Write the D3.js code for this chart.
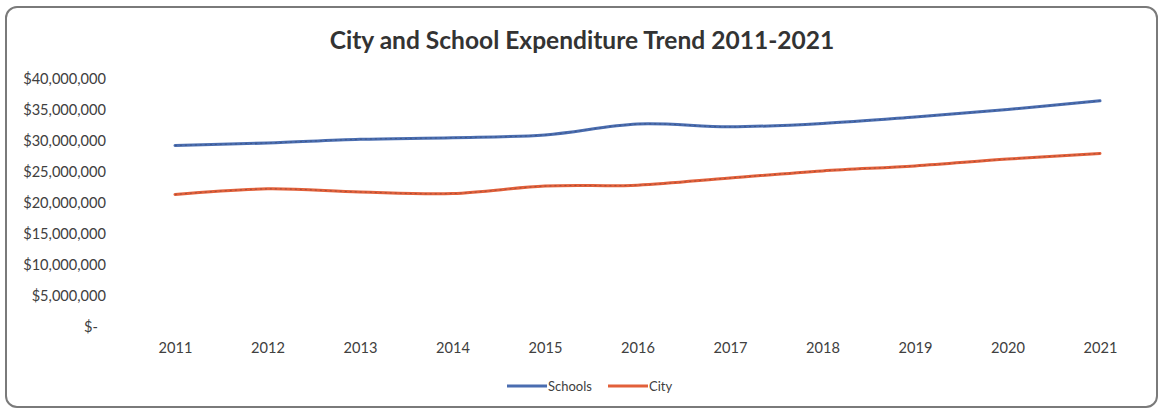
<!DOCTYPE html>
<html>
<head>
<meta charset="utf-8">
<script src="https://cdn.jsdelivr.net/npm/d3@7"></script>
<style>
  html, body { margin: 0; padding: 0; background: #ffffff; }
  svg { display: block; }
</style>
</head>
<body>
<svg id="chart" width="1161" height="412"></svg>
<script>
// Fiscal years shown on the category axis
const years = ["2011", "2012", "2013", "2014", "2015", "2016", "2017", "2018", "2019", "2020", "2021"];

// Annual expenditure, in dollars
const schools = [29200000, 29600000, 30200000, 30450000, 30900000, 32650000, 32200000, 32750000, 33800000, 35000000, 36400000];
const city    = [21300000, 22200000, 21700000, 21450000, 22650000, 22800000, 23950000, 25100000, 25900000, 27000000, 27900000];

// Value axis ticks
const yTicks = [0, 5000000, 10000000, 15000000, 20000000, 25000000, 30000000, 35000000, 40000000];

const seriesNames = ["Schools", "City"];
const seriesColors = ["#4a6db0", "#e2603a"];

const svg = d3.select("#chart");
const font = "Lato, 'Open Sans', sans-serif";

// Chart frame
svg.append("rect")
  .attr("x", 6).attr("y", 7)
  .attr("width", 1151).attr("height", 400)
  .attr("rx", 11).attr("ry", 11)
  .attr("fill", "#ffffff")
  .attr("stroke", "#7a7a7a")
  .attr("stroke-width", 2);

// Scales
const x = d3.scalePoint().domain(years).range([128.75, 1146.25]).padding(0.5);
const y = d3.scaleLinear().domain([0, 40000000]).range([326.5, 78.5]);

// Title, sized to span the heading width
const title = svg.append("text")
  .attr("x", 582).attr("y", 49)
  .attr("text-anchor", "middle")
  .attr("font-family", font)
  .attr("font-weight", "bold")
  .attr("font-size", 21)
  .attr("fill", "#333333")
  .text("City and School Expenditure Trend 2011-2021");
const tw = title.node().getComputedTextLength();
title.attr("font-size", 21 * 505 / tw);

// Value axis labels (accounting style)
const fmt = v => v === 0 ? "$-" : "$" + d3.format(",")(v);
const yAxis = d3.axisLeft(y).tickValues(yTicks).tickFormat(fmt).tickSize(0).tickPadding(0);
const yG = svg.append("g").attr("transform", "translate(106,0)").call(yAxis);
yG.select(".domain").remove();
yG.selectAll("text")
  .attr("font-family", font)
  .attr("font-size", 14.6)
  .attr("fill", "#404040")
  .attr("dx", d => d === 0 ? -8 : 0);

// Category axis labels
const xAxis = d3.axisBottom(x).tickSize(0).tickPadding(0);
const xG = svg.append("g").attr("transform", "translate(0,343)").call(xAxis);
xG.select(".domain").remove();
xG.selectAll("text")
  .attr("font-family", font)
  .attr("font-size", 14.6)
  .attr("fill", "#404040");

// Smoothed series lines
const line = d3.line()
  .x((d, i) => x(years[i]))
  .y(d => y(d))
  .curve(d3.curveCatmullRom.alpha(0));

[schools, city].forEach((vals, k) => {
  svg.append("path")
    .datum(vals)
    .attr("fill", "none")
    .attr("stroke", seriesColors[k])
    .attr("stroke-width", 3)
    .attr("stroke-linecap", "round")
    .attr("d", line);
  // fine dark speckle along the stroke
  svg.append("path")
    .datum(vals)
    .attr("fill", "none")
    .attr("stroke", "#2a2a3a")
    .attr("stroke-opacity", 0.35)
    .attr("stroke-width", 1)
    .attr("stroke-dasharray", "2 3")
    .attr("d", line);
});

// Legend
const legend = svg.append("g").attr("transform", "translate(507,386)");
const legendItems = [
  { name: seriesNames[0], color: seriesColors[0], x: 0 },
  { name: seriesNames[1], color: seriesColors[1], x: 101 }
];
legendItems.forEach(it => {
  const g = legend.append("g").attr("transform", `translate(${it.x},0)`);
  g.append("line")
    .attr("x1", 0).attr("x2", 40).attr("y1", 0).attr("y2", 0)
    .attr("stroke", it.color).attr("stroke-width", 3);
  g.append("text")
    .attr("x", 41).attr("y", 4.5)
    .attr("font-family", font)
    .attr("font-size", 13)
    .attr("fill", "#404040")
    .text(it.name);
});
</script>
</body>
</html>
